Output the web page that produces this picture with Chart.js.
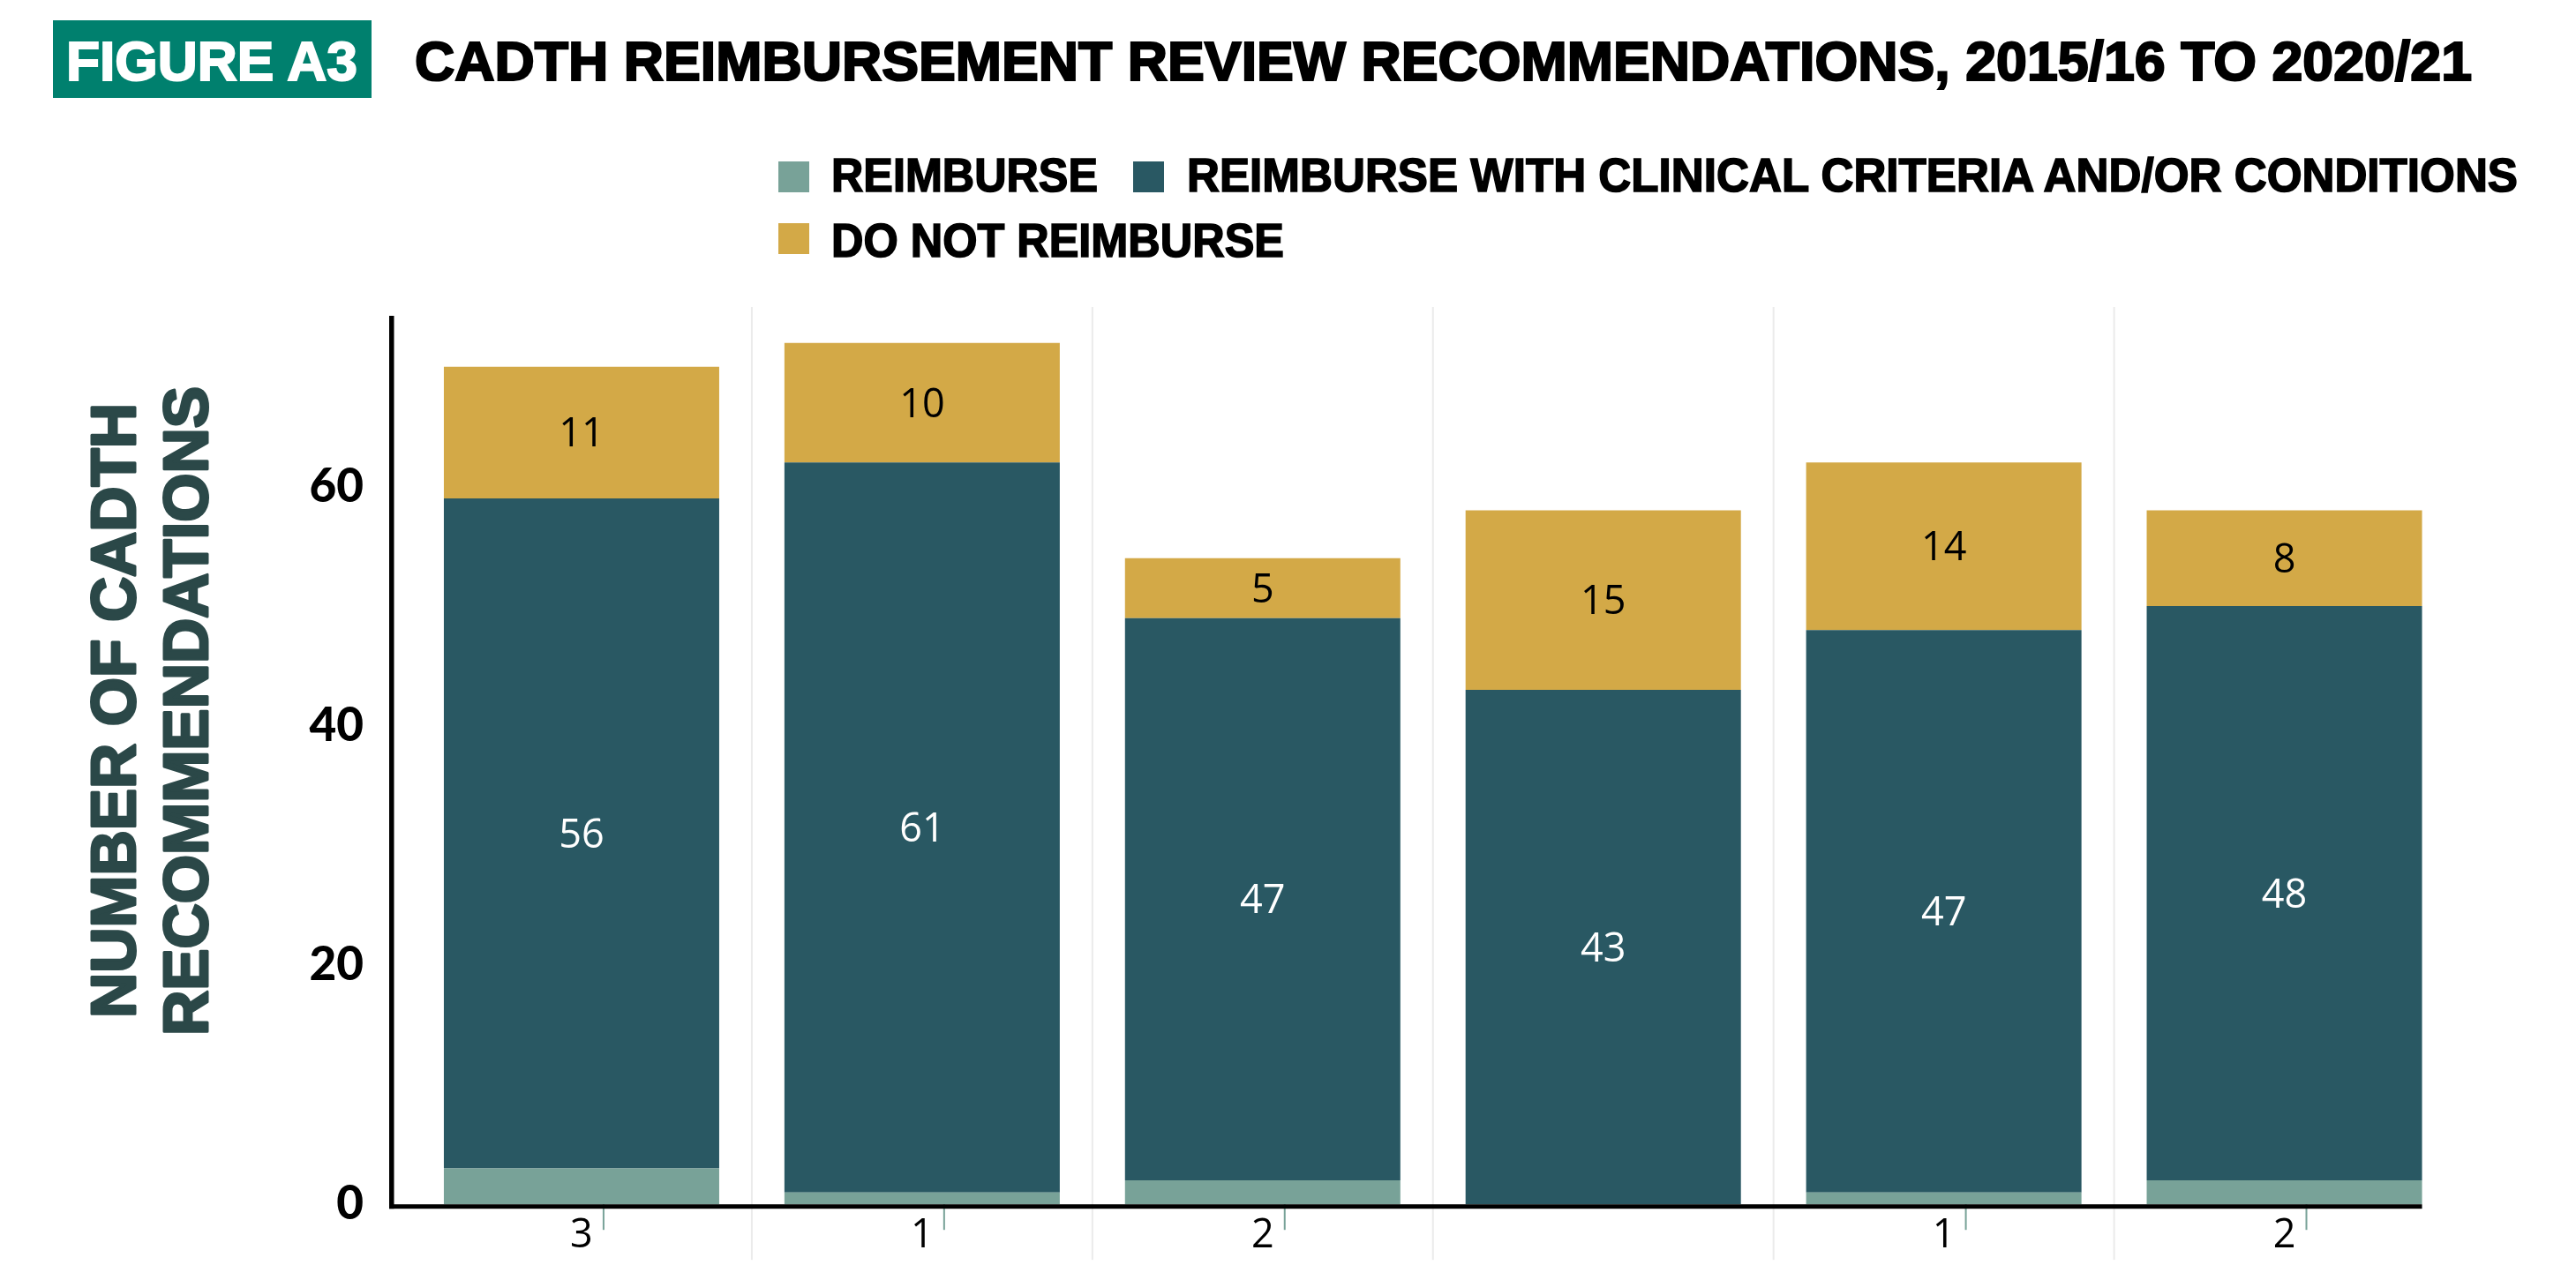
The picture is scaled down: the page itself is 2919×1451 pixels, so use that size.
<!DOCTYPE html>
<html>
<head>
<meta charset="utf-8">
<script src="https://cdn.jsdelivr.net/npm/chart.js@4.4.1/dist/chart.umd.min.js"></script>
<style>
  html, body { margin: 0; padding: 0; background: #ffffff; }
  #wrap { position: relative; width: 2919px; height: 1451px; overflow: hidden; background: #ffffff; }
  #c { position: absolute; left: 0; top: 0; }
  .t { position: absolute; white-space: nowrap; font-family: 'Liberation Sans', Arial, sans-serif; font-weight: 700; transform-origin: 0 0; display: inline-block; }
  .sq { position: absolute; width: 35px; height: 35px; }
</style>
</head>
<body>
<div id="wrap">
  <canvas id="c" width="2919" height="1451"></canvas>
  <div id="figbox" style="position:absolute;left:60px;top:23px;width:361px;height:88px;background:#00806e;"></div>
  <div id="figlabel" class="t"></div>
  <div id="title" class="t"></div>
  <div id="legend"></div>
</div>
<script>
// ---------- data ----------
const categories = ['2015/16', '2016/17', '2017/18', '2018/19', '2019/20', '2020/21'];
const seriesNames = ['REIMBURSE', 'REIMBURSE WITH CLINICAL CRITERIA AND/OR CONDITIONS', 'DO NOT REIMBURSE'];
const reimburse = [3, 1, 2, 0, 1, 2];
const reimburseWithConditions = [56, 61, 47, 43, 47, 48];
const doNotReimburse = [11, 10, 5, 15, 14, 8];
const yTickValues = [0, 20, 40, 60];
const yAxisTitle = ['NUMBER OF CADTH', 'RECOMMENDATIONS'];
const chartTitle = 'CADTH REIMBURSEMENT REVIEW RECOMMENDATIONS, 2015/16 TO 2020/21';
const figureLabel = 'FIGURE A3';

// ---------- styles ----------
const colors = ['#78a298', '#295863', '#d3a947'];
const titleColor = '#2b4848';

// ---------- html text helpers ----------
function placeText(el, text, left, capTop, fs, targetW, color, stroke) {
  el.textContent = text;
  el.style.fontSize = fs + 'px';
  el.style.lineHeight = fs + 'px';
  el.style.left = left + 'px';
  el.style.top = (capTop - 0.1305 * fs) + 'px';
  el.style.color = color;
  if (stroke) {
    el.style.webkitTextStroke = stroke + 'px ' + color;
  }
  const w = el.getBoundingClientRect().width;
  if (w > 0) el.style.transform = 'scaleX(' + (targetW / w) + ')';
}

placeText(document.getElementById('figlabel'), figureLabel, 75, 46, 63, 330, '#ffffff', 2);
placeText(document.getElementById('title'), chartTitle, 470, 46, 63, 2331, '#000000', 2.2);

// legend
const legend = document.getElementById('legend');
const legendLayout = [
  { sqX: 882, sqY: 183, txX: 942, capTop: 179, w: 302 },
  { sqX: 1284, sqY: 183, txX: 1345, capTop: 179, w: 1508 },
  { sqX: 882, sqY: 253, txX: 942, capTop: 253, w: 513 }
];
seriesNames.forEach((name, i) => {
  const L = legendLayout[i];
  const sq = document.createElement('div');
  sq.className = 'sq';
  sq.style.left = L.sqX + 'px';
  sq.style.top = L.sqY + 'px';
  sq.style.background = colors[i];
  legend.appendChild(sq);
  const tx = document.createElement('div');
  tx.className = 't';
  legend.appendChild(tx);
  placeText(tx, name, L.txX, L.capTop, 53, L.w, '#000000', 1.6);
});

// ---------- custom drawing plugin ----------
const decor = {
  id: 'decor',
  beforeDatasetsDraw(chart) {
    const { ctx, chartArea, scales } = chart;
    const x = scales.x;
    ctx.save();
    ctx.fillStyle = '#ebebeb';
    for (let i = 0; i < categories.length - 1; i++) {
      const bx = (x.getPixelForValue(i) + x.getPixelForValue(i + 1)) / 2;
      ctx.fillRect(bx - 1, chartArea.top, 2, chartArea.bottom - chartArea.top + 63);
    }
    ctx.restore();
  },
  afterDatasetsDraw(chart) {
    const { ctx, chartArea } = chart;
    const m0 = chart.getDatasetMeta(0).data;
    const m1 = chart.getDatasetMeta(1).data;
    const m2 = chart.getDatasetMeta(2).data;
    ctx.save();
    // value labels inside bars
    ctx.font = "45px 'Open Sans', sans-serif";
    ctx.textAlign = 'center';
    ctx.textBaseline = 'alphabetic';
    m1.forEach((b, i) => {
      ctx.fillStyle = '#ffffff';
      ctx.fillText(String(reimburseWithConditions[i]), b.x, (b.y + b.base) / 2 + 16);
    });
    m2.forEach((b, i) => {
      ctx.fillStyle = '#000000';
      ctx.fillText(String(doNotReimburse[i]), b.x, (b.y + b.base) / 2 + 16);
    });
    // reimburse labels below axis with leader lines
    m0.forEach((b, i) => {
      if (!reimburse[i]) return;
      const lx = b.x + b.width * 0.08;
      ctx.fillStyle = '#78a298';
      ctx.fillRect(lx - 1, chartArea.bottom, 2, 29);
      ctx.fillStyle = '#000000';
      ctx.fillText(String(reimburse[i]), b.x, chartArea.bottom + 49);
    });
    // axis lines
    const last = m2[m2.length - 1];
    const axisX = chartArea.left - 25;
    ctx.fillStyle = '#000000';
    ctx.fillRect(axisX, chartArea.bottom, last.x + last.width / 2 - axisX, 5);
    ctx.fillRect(axisX, chartArea.top + 10, 5.5, chartArea.bottom + 5 - chartArea.top - 10);
    // y axis title (two lines, rotated)
    ctx.fillStyle = titleColor;
    ctx.strokeStyle = titleColor;
    ctx.lineWidth = 3;
    ctx.lineJoin = 'round';
    ctx.font = "bold 70px 'Liberation Sans', Arial, sans-serif";
    ctx.textAlign = 'center';
    ctx.textBaseline = 'alphabetic';
    const lines = [
      { cx: 128, cy: 805.5, len: 697 },
      { cx: 209.5, cy: 806, len: 736 }
    ];
    yAxisTitle.forEach((t, i) => {
      const L = lines[i];
      const w = ctx.measureText(t).width;
      ctx.save();
      ctx.translate(L.cx, L.cy);
      ctx.rotate(-Math.PI / 2);
      ctx.scale(L.len / w, 1);
      ctx.fillText(t, 0, 25);
      ctx.strokeText(t, 0, 25);
      ctx.restore();
    });
    ctx.restore();
  }
};

// ---------- chart ----------
const datasets = [reimburse, reimburseWithConditions, doNotReimburse].map((d, i) => ({
  label: seriesNames[i],
  data: d,
  backgroundColor: colors[i],
  borderWidth: 0,
  barPercentage: 0.8085,
  categoryPercentage: 1.0
}));

new Chart(document.getElementById('c'), {
  type: 'bar',
  data: { labels: categories, datasets },
  options: {
    responsive: false,
    devicePixelRatio: 1,
    animation: false,
    layout: { padding: { left: 0, right: 137.5, top: 348, bottom: 83 } },
    plugins: {
      legend: { display: false },
      title: { display: false },
      tooltip: { enabled: false }
    },
    scales: {
      x: {
        stacked: true,
        display: false,
        offset: true
      },
      y: {
        stacked: true,
        min: 0,
        max: 75,
        grid: { display: false, drawTicks: false },
        border: { display: false },
        afterFit(scale) { scale.width = 466; },
        afterBuildTicks(scale) {
          scale.ticks = yTickValues.map(v => ({ value: v }));
        },
        ticks: {
          stepSize: 20,
          includeBounds: false,
          padding: 54,
          color: '#000000',
          font: { family: "'Lato', 'Liberation Sans', sans-serif", weight: 900, size: 53 }
        }
      }
    }
  },
  plugins: [decor]
});
</script>
</body>
</html>
